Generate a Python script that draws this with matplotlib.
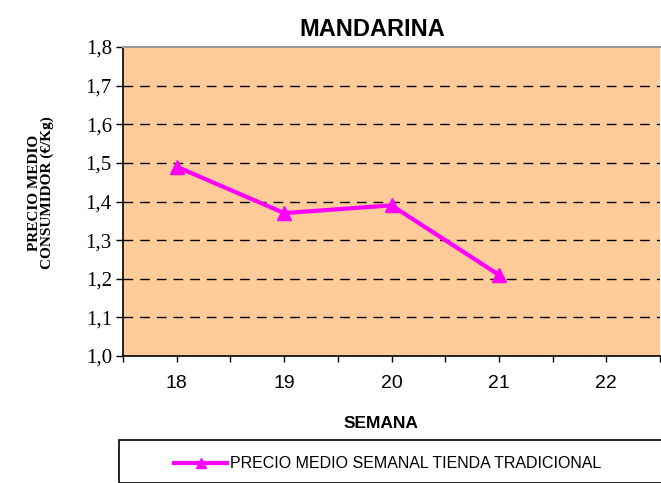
import matplotlib.pyplot as plt
from matplotlib.patches import Rectangle
from matplotlib.ticker import FixedLocator

# Datos del grafico
semanas = [18, 19, 20, 21, 22]
semanas_datos = [18, 19, 20, 21]
precio_medio = [1.49, 1.37, 1.39, 1.21]
y_ticks = [1.0, 1.1, 1.2, 1.3, 1.4, 1.5, 1.6, 1.7, 1.8]
y_tick_labels = ['1,0', '1,1', '1,2', '1,3', '1,4', '1,5', '1,6', '1,7', '1,8']
serie_label = 'PRECIO MEDIO SEMANAL TIENDA TRADICIONAL'

sans = 'Liberation Sans'
serif = 'Liberation Serif'

fig = plt.figure(figsize=(6.61, 4.83), dpi=100)
ax = fig.add_axes([123 / 661, 1 - 356 / 483, 537 / 661, 309 / 483])
ax.set_facecolor('#FFCC99')

line, = ax.plot(semanas_datos, precio_medio, color='#FF00FF', lw=3,
                marker='^', markersize=10, label=serie_label, zorder=3)

ax.set_xlim(17.5, 22.5)
ax.set_ylim(1.0, 1.8)

# eje y
ax.set_yticks(y_ticks)
ax.set_yticklabels(y_tick_labels, fontfamily=serif, fontsize=15)
ax.tick_params(axis='y', direction='out', length=5, width=1, pad=3)

# eje x: etiquetas en el centro de cada semana, marcas tambien en los limites
ax.set_xticks(semanas)
ax.set_xticklabels([str(s) for s in semanas], fontfamily=sans, fontsize=14)
ax.xaxis.set_minor_locator(FixedLocator([17.5 + i for i in range(6)]))
ax.tick_params(axis='x', which='both', direction='out', length=4, width=1, pad=10)

# rejilla discontinua
for y in y_ticks[1:-1]:
    ax.axhline(y, color='black', lw=1, ls=(0, (7, 5)), zorder=1)

for s in ['left', 'bottom']:
    ax.spines[s].set_color('black')
    ax.spines[s].set_linewidth(1.2)
ax.spines['top'].set_color('#999999')
ax.spines['top'].set_linewidth(1.5)
ax.spines['right'].set_visible(False)

fig.text(372 / 661, 1 - 29 / 483, 'MANDARINA', ha='center', va='center',
         fontfamily=sans, fontweight='bold', fontsize=17)
fig.text(381 / 661, 1 - 423 / 483, 'SEMANA', ha='center', va='center',
         fontfamily=sans, fontweight='bold', fontsize=12.5)
fig.text(41 / 661, 1 - 193 / 483, 'PRECIO MEDIO\nCONSUMIDOR (€/Kg)', ha='center',
         va='center', rotation=90, fontfamily=serif, fontweight='bold',
         fontsize=11, linespacing=0.95)

# caja de la leyenda
fig.patches.append(Rectangle((119 / 661, 0), 560 / 661, 43 / 483,
                             transform=fig.transFigure, facecolor='white',
                             edgecolor='black', lw=1.2, clip_on=False))
fig.legend(handles=[line], loc='center',
           bbox_to_anchor=(388 / 661, 1 - 464 / 483),
           prop={'family': sans, 'size': 11.5}, frameon=False,
           handlelength=3.3, handletextpad=0.2, borderaxespad=0,
           markerscale=0.7)

fig.savefig('out.png', dpi=100)
